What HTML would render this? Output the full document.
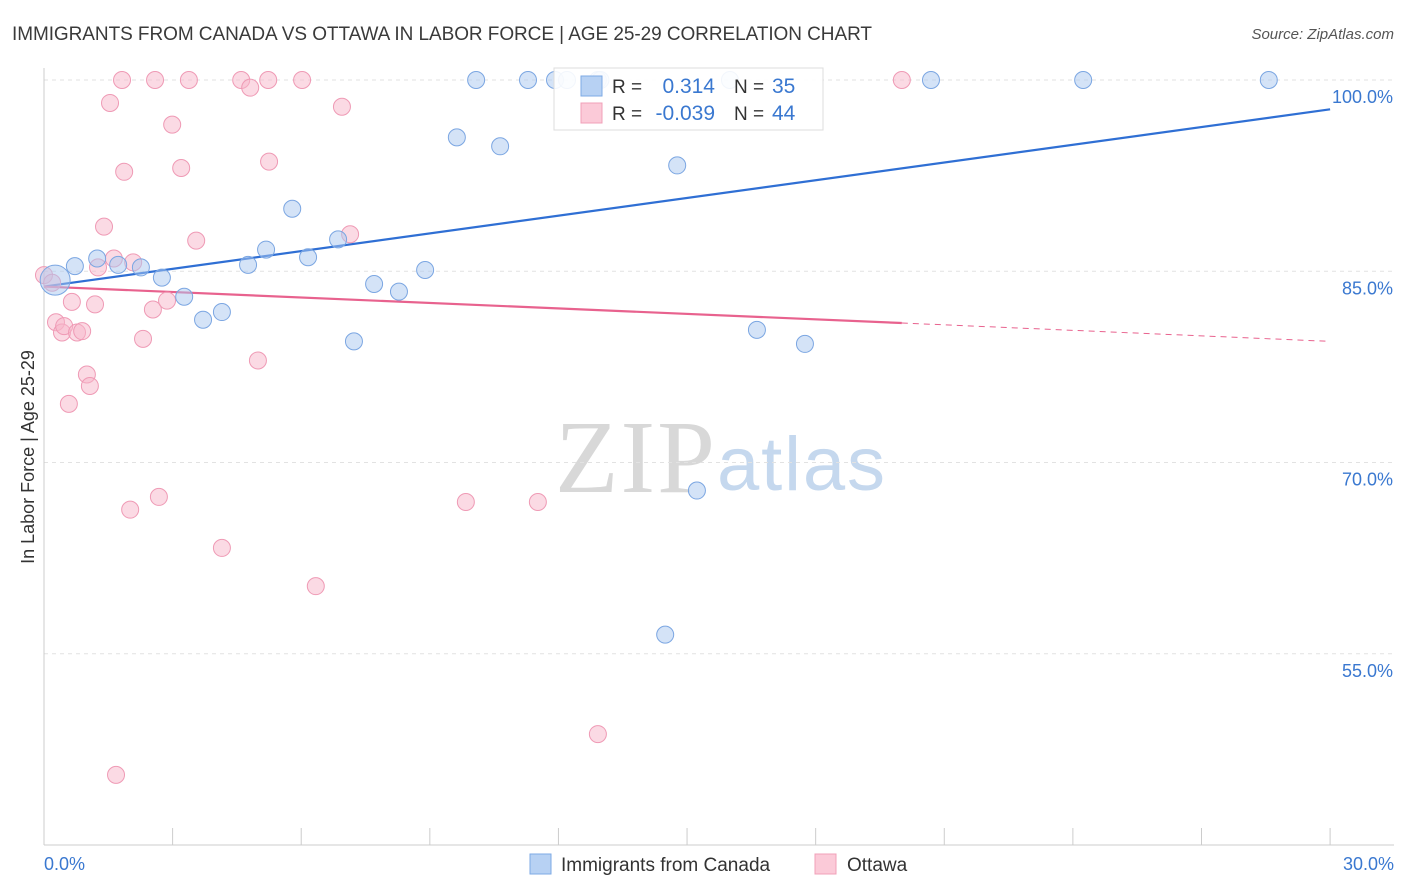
<!DOCTYPE html>
<html><head><meta charset="utf-8"><style>
body{margin:0;background:#fff;font-family:"Liberation Sans",sans-serif;}
svg{display:block}
</style></head><body>
<svg id="chart" width="1406" height="892">
<text x="12" y="40" font-size="19" fill="#3a3a3a" textLength="860">IMMIGRANTS FROM CANADA VS OTTAWA IN LABOR FORCE | AGE 25-29 CORRELATION CHART</text>
<text x="1394" y="39" font-size="15" font-style="italic" fill="#555" text-anchor="end">Source: ZipAtlas.com</text>
<text x="555" y="492" font-size="104" font-family="Liberation Serif,serif" fill="#d8d8d8" textLength="160">ZIP</text>
<text x="717" y="490" font-size="76" fill="#c5d8ee" textLength="168">atlas</text>
<g id="grid"></g><g id="axes"></g><g id="trends"></g><g id="pts"></g>
<text transform="translate(34,457) rotate(-90)" font-size="18" fill="#333" text-anchor="middle">In Labor Force | Age 25-29</text>
<g>
<rect x="554" y="68" width="269" height="62" fill="#fff" fill-opacity="0.9" stroke="#ddd"/>
<rect x="581" y="76" width="21" height="20" fill="#b7d1f3" stroke="#7eaae4"/>
<rect x="581" y="103" width="21" height="20" fill="#fbcad8" stroke="#f0a0b8"/>
<text x="612" y="93" font-size="19" fill="#333">R =</text>
<text x="715" y="93" font-size="21" fill="#3a78d0" text-anchor="end">0.314</text>
<text x="734" y="93" font-size="19" fill="#333">N =</text>
<text x="772" y="93" font-size="21" fill="#3a78d0">35</text>
<text x="612" y="120" font-size="19" fill="#333">R =</text>
<text x="715" y="120" font-size="21" fill="#3a78d0" text-anchor="end">-0.039</text>
<text x="734" y="120" font-size="19" fill="#333">N =</text>
<text x="772" y="120" font-size="21" fill="#3a78d0">44</text>
</g>
<g>
<rect x="530" y="854" width="21" height="20" fill="#b7d1f3" stroke="#7eaae4"/>
<text x="561" y="871" font-size="19" fill="#333">Immigrants from Canada</text>
<rect x="815" y="854" width="21" height="20" fill="#fbcad8" stroke="#f0a0b8"/>
<text x="847" y="871" font-size="19" fill="#333">Ottawa</text>
</g>
</svg>
<script>
const blueX=[0.26,0.72,1.24,1.73,2.26,2.75,3.27,3.71,4.15,4.76,5.18,5.79,6.16,6.86,7.70,8.28,8.89,7.23,9.63,10.08,10.64,11.29,11.92,12.2,12.92,14.77,16.0,16.63,17.75,15.23,14.49,20.69,24.24,28.57,12.98];
const blueY=[84.3,85.4,86.0,85.5,85.3,84.5,83.0,81.2,81.8,85.5,86.7,89.9,86.1,87.5,84.0,83.4,85.1,79.5,95.5,100,94.8,100,100,100,100,93.3,100,80.4,79.3,67.8,56.5,100,100,100,100];
const pinkX=[0,0.19,0.28,0.42,0.47,0.65,0.77,0.89,0.58,1.0,1.07,1.19,1.26,1.4,1.54,1.63,1.82,1.87,2.01,2.08,2.31,2.54,2.59,2.68,2.87,2.99,3.2,3.38,3.55,4.15,4.6,4.81,4.99,5.23,5.25,6.02,6.34,6.95,7.14,9.84,11.52,12.92,1.68,20.01];
const pinkY=[84.7,84.1,81.0,80.2,80.7,82.6,80.2,80.3,74.6,76.9,76.0,82.4,85.3,88.5,98.2,86.0,100,92.8,66.3,85.7,79.7,82.0,100,67.3,82.7,96.5,93.1,100,87.4,63.3,100,99.4,78.0,100,93.6,100,60.3,97.9,87.9,66.9,66.9,48.7,45.5,100];
const blueTrend=[83.8,97.7];
const pinkTrend=[83.8,80.94,79.5];
const pinkTrendX=[0,20.01,30];
const yTicks=[100,85,70,55];
const xTickLabels=["0.0%","30.0%"];
const NS="http://www.w3.org/2000/svg";
const X=v=>44+v*42.87, Y=v=>80+(100-v)*12.75;
function mk(p,t,a){const e=document.createElementNS(NS,t);for(const k in a)e.setAttribute(k,a[k]);document.getElementById(p).appendChild(e);return e;}
yTicks.forEach(t=>{
 const l=mk('grid','line',{x1:44,x2:1394,y1:Y(t),y2:Y(t),stroke:'#e2e2e2','stroke-dasharray':'4,4'});
 
 
 const tx=mk('grid','text',{x:1393,y:Y(t)+23,'font-size':18,fill:'#3a78d0','text-anchor':'end'});
 tx.textContent=t.toFixed(1)+'%';
 
 
});
const ax=mk('axes','line',{x1:44,x2:1394,y1:845,y2:845,stroke:'#ccc'});


const ay=mk('axes','line',{x1:44,x2:44,y1:68,y2:845,stroke:'#ccc'});


for(let i=0;i<=10;i++){const t=mk('axes','line',{x1:X(i*3),x2:X(i*3),y1:828,y2:845,stroke:'#ccc'});
 
 }
[[0,'start',44],[30,'end',1394]].forEach((d,i)=>{const t=mk('axes','text',{x:d[2],y:870,'font-size':18,fill:'#3a78d0','text-anchor':d[1]});t.textContent=xTickLabels[i];
 
 });
const bl=mk('trends','line',{x1:X(0),y1:Y(blueTrend[0]),x2:X(30),y2:Y(blueTrend[1]),stroke:'#2f6fd4','stroke-width':2.2});


const pl=mk('trends','line',{x1:X(pinkTrendX[0]),y1:Y(pinkTrend[0]),x2:X(pinkTrendX[1]),y2:Y(pinkTrend[1]),stroke:'#e8628e','stroke-width':2.2});


const pd=mk('trends','line',{x1:X(pinkTrendX[1]),y1:Y(pinkTrend[1]),x2:X(pinkTrendX[2]),y2:Y(pinkTrend[2]),stroke:'#e8628e','stroke-width':1,'stroke-dasharray':'6,5'});


pinkX.forEach((x,i)=>{const c=mk('pts','circle',{cx:X(x),cy:Y(pinkY[i]),r:8.5,fill:'#f7b6ca','fill-opacity':0.5,stroke:'#ef9ab5','stroke-width':1});
 
 });
blueX.forEach((x,i)=>{const c=mk('pts','circle',{cx:X(x),cy:Y(blueY[i]),r:i==0?15:8.5,fill:'#aac8f0','fill-opacity':0.5,stroke:'#7ba6e2','stroke-width':1});
 
 });
</script>
</body></html>
